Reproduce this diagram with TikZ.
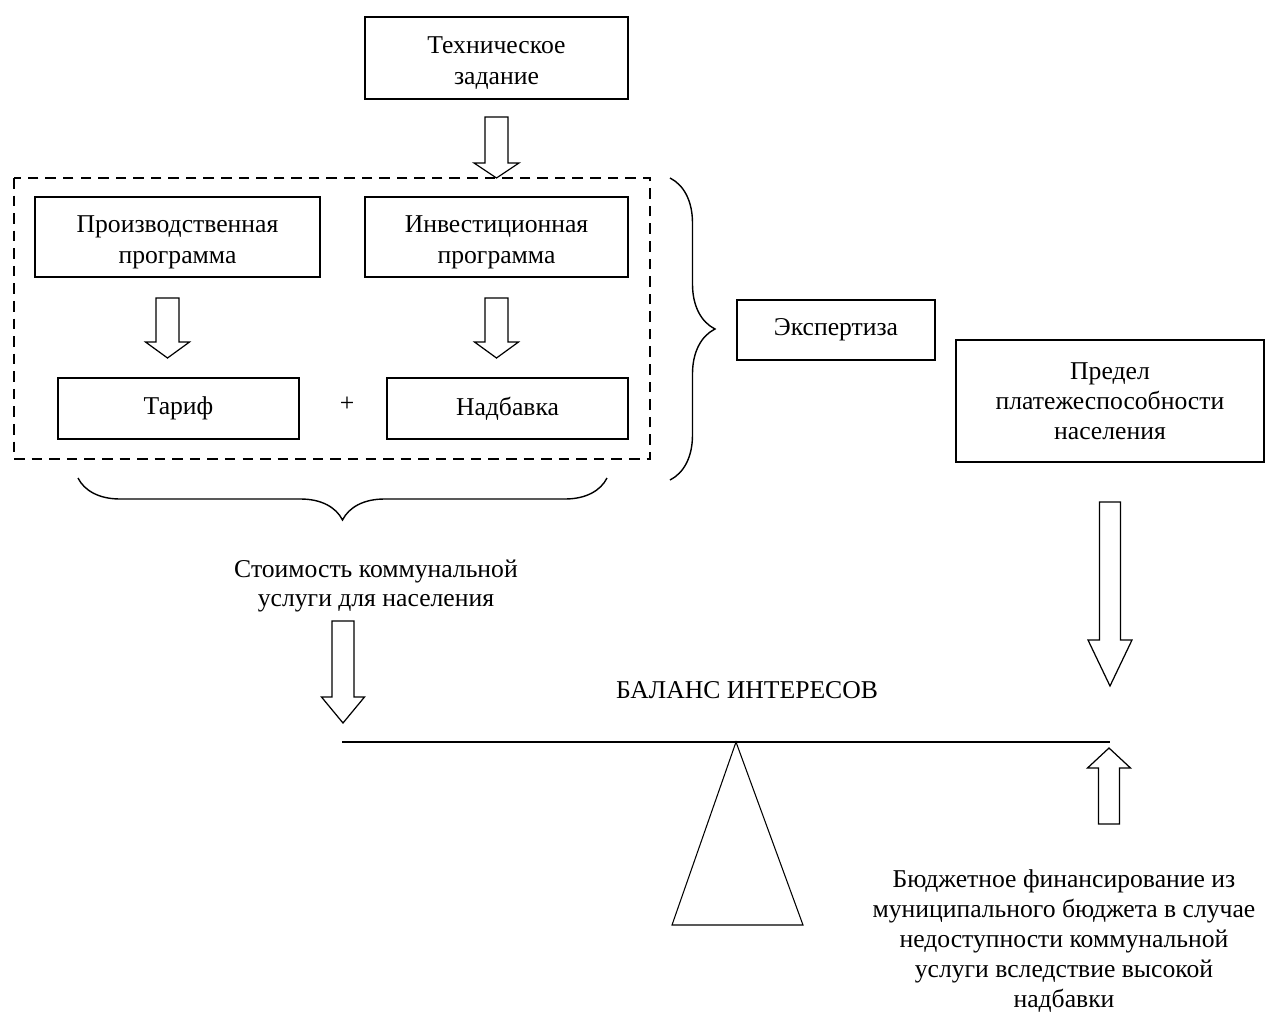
\documentclass[tikz,border=0pt]{standalone}
\usepackage{fontspec}
\setmainfont{Liberation Serif}
\usetikzlibrary{positioning, calc, decorations.pathreplacing}
\tikzset{
every node/.style = {font = \fontsize{14.6}{17}\selectfont},
box/.style = {rectangle, draw, line width = 0.8pt, inner sep = 0pt, align = center},
boxtext/.style = {align = center, inner sep = 0pt, font = \fontsize{14.6}{17.8}\selectfont},
frame/.style = {draw, line width = 0.9pt, dash pattern = on 6pt off 4pt},
blockarrow/.style = {draw, line width = 0.7pt, line join = miter},
bracket/.style = {draw, line width = 0.8pt, decorate, decoration = {brace, amplitude = #1}},
beam/.style = {draw, line width = 1.2pt},
label/.style = {align = center, inner sep = 0pt}
}
% hollow block arrow: x, y start, y head, y tip, shaft half width, head half width
\newcommand\blockarrow[6]{%
   \draw [blockarrow] (#1-#5,#2) -- (#1-#5,#3) -- (#1-#6,#3) -- (#1,#4)
      -- (#1+#6,#3) -- (#1+#5,#3) -- (#1+#5,#2) -- cycle;}

\begin{document}
\begin{tikzpicture}[x = 0.02cm, y = -0.02cm]

\useasboundingbox (0,0) rectangle (1269,1012);

%% Boxes
\node [box, minimum width = 5.26cm, minimum height = 1.64cm] (task) at (496.5,58) {};
\node [boxtext] at ($(task.center) + (0,5)$) {Техническое\\задание};
\node [box, minimum width = 5.7cm, minimum height = 1.6cm] (prod) at (177.5,237) {};
\node [boxtext] at ($(prod.center) + (0,5)$) {Производственная\\программа};
\node [box, minimum width = 5.26cm, minimum height = 1.6cm] (invest) at (496.5,237) {};
\node [boxtext] at ($(invest.center) + (0,5)$) {Инвестиционная\\программа};
\node [box, minimum width = 4.82cm, minimum height = 1.22cm] (tariff) at (178.5,408.5) {Тариф};
\node [box, minimum width = 4.82cm, minimum height = 1.22cm] (markup) at (507.5,408.5) {Надбавка};
\node (plus) at (347,404) {+};
\node [box, minimum width = 3.96cm, minimum height = 1.2cm] (expert) at (836,330) {Экспертиза};
\node [box, minimum width = 6.16cm, minimum height = 2.44cm] (limit) at (1110,401)
   {Предел\\платежеспособности\\населения};

%% Dashed frame
\coordinate (fr1) at (14,178);
\coordinate (fr2) at (650,459);
\draw [frame] (fr1) rectangle (fr2);

%% Braces
\draw [bracket = 0.9cm] (670,178) -- (670,480);
\draw [bracket = 0.84cm] (607,478) -- (78,478);

%% Texts
\node [label] (cost) at (376,586) {Стоимость коммунальной\\услуги для населения};
\node [label] (balance) at (747,690) {БАЛАНС ИНТЕРЕСОВ};
\node [label] (budget) at (1064,941)
   {Бюджетное финансирование из\\муниципального бюджета в случае\\недоступности коммунальной\\услуги вследствие высокой\\надбавки};

%% Block arrows
\blockarrow{496.5}{117}{163}{178}{11.5}{22.5}
\blockarrow{167.5}{298}{342}{358}{11.5}{22}
\blockarrow{496.5}{298}{342}{358}{11.5}{22}
\blockarrow{343}{621}{697}{723}{11}{21.5}
\blockarrow{1110}{502}{640}{686}{10.5}{22}
\blockarrow{1109}{824}{768}{748}{10.5}{21.5}

%% Balance
\coordinate (bl) at (342,742);
\coordinate (br) at (1110,742);
\coordinate (pivot) at (736,742);
\draw [beam] (bl) -- (br);
\draw [line width = 0.6pt] (pivot) -- (803,925) -- (672,925) -- cycle;

\end{tikzpicture}
\end{document}
